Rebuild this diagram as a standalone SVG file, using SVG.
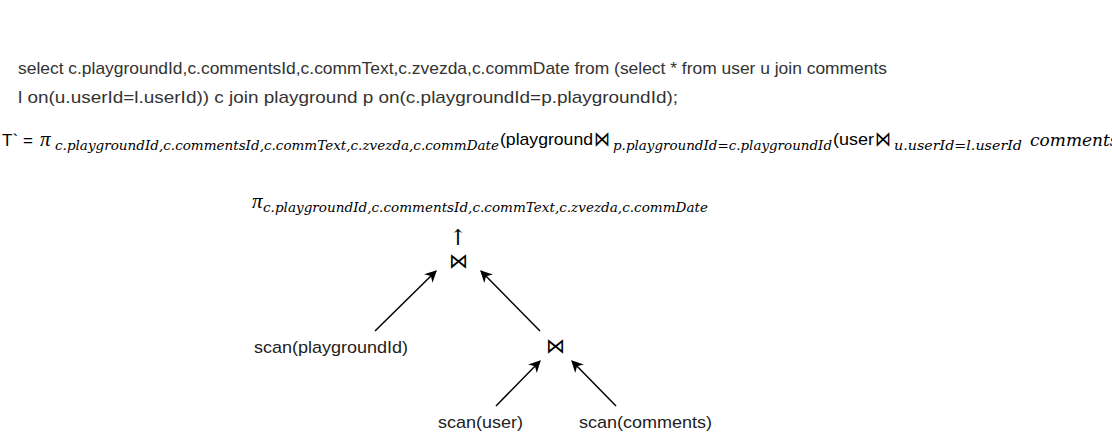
<svg xmlns="http://www.w3.org/2000/svg" width="1112" height="437" viewBox="0 0 1112 437">
<defs>
<style>
.sql{font-family:"Liberation Sans",Arial,sans-serif;font-size:17px;fill:#333}
.txt{font-family:"Liberation Sans",Arial,sans-serif;font-size:17px;fill:#000}
.pi{font-family:"Liberation Serif","DejaVu Serif",serif;font-style:italic;font-size:21px;fill:#000}
.sub{font-family:"DejaVu Serif",serif;font-style:italic;font-size:13px;fill:#000}
.mi{font-family:"DejaVu Serif",serif;font-style:italic;font-size:17px;fill:#000}
.bow{font-family:"DejaVu Sans",sans-serif;font-size:21px;fill:#000}
.arrow{font-family:"DejaVu Serif",serif;font-size:22px;fill:#000}
.lbl{font-family:"Liberation Sans",Arial,sans-serif;font-size:17px;fill:#222}
.edge{stroke:#000;stroke-width:1.5;fill:none;marker-end:url(#arr)}
</style>
<marker id="arr" viewBox="0 0 10 10" refX="9" refY="5" markerWidth="12" markerHeight="12" orient="auto" markerUnits="userSpaceOnUse">
<path d="M0,0 L10,5 L0,10 L3,5 z" fill="#000"/>
</marker>
</defs>
<rect width="1112" height="437" fill="#fff"/>
<g id="sql">
<text class="sql" x="18" y="74" textLength="869" lengthAdjust="spacingAndGlyphs">select c.playgroundId,c.commentsId,c.commText,c.zvezda,c.commDate from (select * from user u join comments</text>
<text class="sql" x="18" y="103" textLength="660" lengthAdjust="spacingAndGlyphs">l on(u.userId=l.userId)) c join playground p on(c.playgroundId=p.playgroundId);</text>
</g>
<g id="formula">
<text class="txt" x="2" y="146">T`</text>
<text class="txt" x="23" y="146">=</text>
<text class="pi" x="40" y="146">π</text>
<text class="sub" x="55" y="150" textLength="444" lengthAdjust="spacingAndGlyphs">c.playgroundId,c.commentsId,c.commText,c.zvezda,c.commDate</text>
<text class="txt" x="500" y="145" textLength="93" lengthAdjust="spacingAndGlyphs">(playground</text>
<text class="bow" x="594" y="146" textLength="16" lengthAdjust="spacingAndGlyphs">⋈</text>
<text class="sub" x="613" y="150" textLength="219" lengthAdjust="spacingAndGlyphs">p.playgroundId=c.playgroundId</text>
<text class="txt" x="833" y="145" textLength="41" lengthAdjust="spacingAndGlyphs">(user</text>
<text class="bow" x="875" y="146" textLength="16" lengthAdjust="spacingAndGlyphs">⋈</text>
<text class="sub" x="894" y="150" textLength="128" lengthAdjust="spacingAndGlyphs">u.userId=l.userId</text>
<text class="mi" x="1030" y="146">comments</text>
</g>
<g id="proj">
<text class="pi" x="252" y="208">π</text>
<text class="sub" x="263" y="212" textLength="445" lengthAdjust="spacingAndGlyphs">c.playgroundId,c.commentsId,c.commText,c.zvezda,c.commDate</text>
<text class="arrow" x="458" y="245" text-anchor="middle">↑</text>
</g>
<g id="join1"><text class="bow" x="449" y="268" textLength="19" lengthAdjust="spacingAndGlyphs">⋈</text></g>
<g id="join2"><text class="bow" x="546" y="353" textLength="19" lengthAdjust="spacingAndGlyphs">⋈</text></g>
<g id="scan-playground"><text class="lbl" x="254" y="353" textLength="154" lengthAdjust="spacingAndGlyphs">scan(playgroundId)</text></g>
<g id="scan-user"><text class="lbl" x="438" y="428" textLength="85" lengthAdjust="spacingAndGlyphs">scan(user)</text></g>
<g id="scan-comments"><text class="lbl" x="579" y="428" textLength="133" lengthAdjust="spacingAndGlyphs">scan(comments)</text></g>
<g id="connectors">
<line class="edge" x1="375" y1="331" x2="436" y2="271"/>
<line class="edge" x1="540" y1="331" x2="481" y2="271"/>
<line class="edge" x1="496" y1="406" x2="540" y2="361"/>
<line class="edge" x1="616" y1="406" x2="572" y2="361"/>
</g>
</svg>
